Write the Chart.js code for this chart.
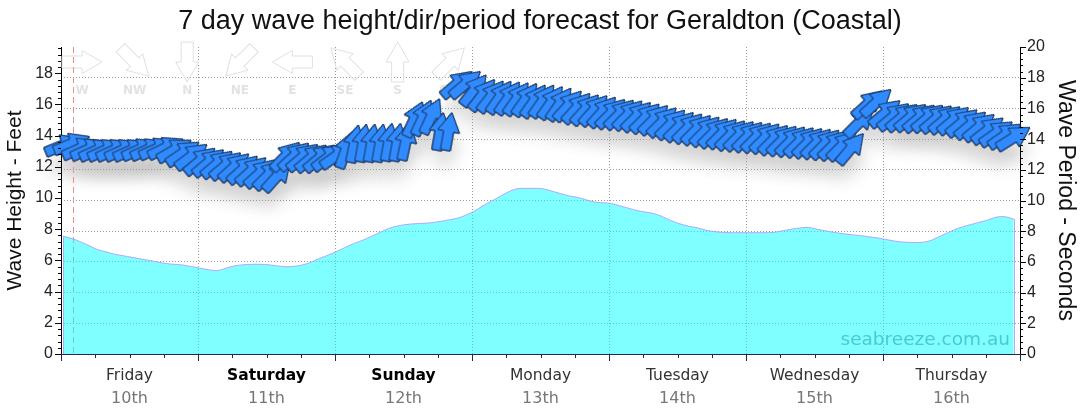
<!DOCTYPE html>
<html><head><meta charset="utf-8">
<script src="https://cdn.jsdelivr.net/npm/chart.js@4.4.0/dist/chart.umd.min.js"></script>
<style>html,body{margin:0;padding:0;background:#fff;overflow:hidden}</style>
</head><body>
<canvas id="c" width="1080" height="414"></canvas>
<script>
// ---- data ----
const chartTitle = '7 day wave height/dir/period forecast for Geraldton (Coastal)';
const dayNames = ['Friday','Saturday','Sunday','Monday','Tuesday','Wednesday','Thursday'];
const dayDates = ['10th','11th','12th','13th','14th','15th','16th'];
const weekendDays = ['Saturday','Sunday'];
// hours since Friday 00:00
const hours = [
  0.4,1.9,3.4,4.9,6.4,7.9,9.4,10.9,12.4,13.9,15.4,16.9,18.4,19.9,21.4,22.9,
  24.4,25.9,27.4,28.9,30.4,31.9,33.4,34.9,36.4,37.9,39.4,40.9,42.4,43.9,45.4,46.9,
  48.4,49.9,51.4,52.9,54.4,55.9,57.4,58.9,60.4,61.9,63.4,64.9,66.4,67.9,69.4,70.9,
  72.4,73.9,75.4,76.9,78.4,79.9,81.4,82.9,84.4,85.9,87.4,88.9,90.4,91.9,93.4,94.9,
  96.4,97.9,99.4,100.9,102.4,103.9,105.4,106.9,108.4,109.9,111.4,112.9,114.4,115.9,117.4,118.9,
  120.4,121.9,123.4,124.9,126.4,127.9,129.4,130.9,132.4,133.9,135.4,136.9,138.4,139.9,141.4,142.9,
  144.4,145.9,147.4,148.9,150.4,151.9,153.4,154.9,156.4,157.9,159.4,160.9,162.4,163.9,165.4,166.9
];
const waveHeightFt = [
  7.55,7.4,7.2,6.95,6.7,6.55,6.4,6.3,6.2,6.1,6.0,5.9,5.8,5.75,5.7,5.6,
  5.5,5.4,5.35,5.5,5.65,5.72,5.75,5.75,5.72,5.65,5.6,5.62,5.72,5.9,6.15,6.35,
  6.6,6.85,7.1,7.3,7.55,7.8,8.05,8.2,8.3,8.35,8.38,8.42,8.5,8.6,8.7,8.9,
  9.15,9.5,9.8,10.1,10.4,10.6,10.62,10.62,10.6,10.45,10.3,10.15,10.05,9.9,9.75,9.7,
  9.65,9.5,9.35,9.2,9.1,9.0,8.8,8.55,8.35,8.2,8.1,7.95,7.85,7.8,7.78,7.78,
  7.78,7.78,7.78,7.8,7.9,8.0,8.08,8.12,8.0,7.9,7.8,7.72,7.65,7.6,7.52,7.45,
  7.35,7.25,7.18,7.15,7.15,7.22,7.45,7.7,7.95,8.15,8.3,8.45,8.6,8.78,8.8,8.65
];
const wavePeriodS = [
  13.6,13.7,13.4,13.35,13.3,13.3,13.3,13.3,13.3,13.35,13.35,13.4,13.45,13.3,13.1,12.9,
  12.6,12.5,12.4,12.3,12.2,12.05,11.95,11.8,11.7,11.6,12.9,12.9,12.85,12.8,12.8,12.85,
  12.95,13.3,13.7,13.75,13.75,13.75,13.8,13.8,13.85,15.3,15.4,15.5,14.5,14.5,17.6,17.6,
  17.2,16.9,16.8,16.75,16.7,16.65,16.6,16.5,16.5,16.4,16.3,16.2,16.05,15.95,15.9,15.8,
  15.7,15.65,15.6,15.5,15.4,15.3,15.15,15.0,14.85,14.75,14.65,14.55,14.45,14.4,14.3,14.25,
  14.2,14.15,14.1,14.0,13.95,13.9,13.85,13.8,13.75,13.7,13.65,13.6,13.4,15.1,16.3,16.4,
  15.7,15.5,15.45,15.45,15.4,15.4,15.35,15.3,15.25,15.1,14.95,14.8,14.6,14.4,14.25,14.1
];
// direction waves come FROM, degrees
const waveDirDeg = [
  248,248,246,246,246,246,246,246,246,246,246,246,244,240,236,233,
  230,230,230,230,228,228,228,228,225,222,225,228,230,230,230,232,
  235,200,192,190,190,190,190,190,192,205,205,205,190,190,230,230,
  218,218,218,215,215,215,215,215,215,215,215,222,222,222,222,222,
  225,225,225,225,225,225,225,225,225,225,225,225,225,225,225,225,
  225,225,225,225,225,225,225,225,225,225,225,225,220,225,228,228,
  230,230,230,230,230,230,230,230,230,230,230,230,232,235,235,238
];
const compassLabels = ['W','NW','N','NE','E','SE','S','SW'];
const compassDirs = [270,315,0,45,90,135,180,225];
const nowHour = 2.1;
const heightMaxFt = 19.685;
const periodMax = 20;
const watermark = 'seabreeze.com.au';

// ---- drawing helpers ----
function arrowPath(g, len, hw, hl, sw) {
  g.beginPath();
  g.moveTo(-len/2, -sw/2);
  g.lineTo(len/2 - hl, -sw/2);
  g.lineTo(len/2 - hl, -hw/2);
  g.lineTo(len/2, 0);
  g.lineTo(len/2 - hl, hw/2);
  g.lineTo(len/2 - hl, sw/2);
  g.lineTo(-len/2, sw/2);
  g.closePath();
}
function makeArrow(len, hw, hl, sw, fill, stroke) {
  const c = document.createElement('canvas');
  c.width = c.height = Math.ceil(len + 4);
  const g = c.getContext('2d');
  g.translate(c.width/2, c.height/2);
  arrowPath(g, len, hw, hl, sw);
  g.fillStyle = fill; g.fill();
  g.lineWidth = 1; g.strokeStyle = stroke; g.stroke();
  return c;
}
const arrowImg = makeArrow(38, 22, 19, 10, '#2f8bff', '#18335c');
const rotOf = d => d - 270;

const ARROW_DS = 0, AREA_DS = 1;

const extras = {
  id: 'extras',
  beforeDatasetsDraw(chart) {
    const ctx = chart.ctx, ca = chart.chartArea, xs = chart.scales.x;
    ctx.save();
    for (let i = 0; i < compassLabels.length; i++) {
      const cx = ca.left + 21 + i * 52.6, cy = 62;
      ctx.save();
      ctx.translate(cx, cy);
      ctx.rotate(rotOf(compassDirs[i]) * Math.PI / 180);
      arrowPath(ctx, 40, 23, 20, 12);
      ctx.strokeStyle = '#e0e0e0'; ctx.lineWidth = 1; ctx.stroke();
      ctx.restore();
      ctx.fillStyle = '#e2e2e2';
      ctx.font = 'bold 12px "DejaVu Sans"';
      ctx.textAlign = 'center'; ctx.textBaseline = 'middle';
      ctx.fillText(compassLabels[i], cx, 91);
    }
    const nx = Math.round(xs.getPixelForValue(nowHour)) + 0.5;
    ctx.strokeStyle = '#f08c8c';
    ctx.setLineDash([6, 4]);
    ctx.beginPath(); ctx.moveTo(nx, ca.top); ctx.lineTo(nx, ca.bottom); ctx.stroke();
    ctx.restore();
  },
  afterDatasetDraw(chart, args) {
    const ctx = chart.ctx, ca = chart.chartArea;
    if (args.index === ARROW_DS) {
      ctx.save();
      ctx.globalCompositeOperation = 'destination-over';
      ctx.shadowColor = 'rgba(0,0,0,0.1)';
      ctx.shadowBlur = 16;
      ctx.shadowOffsetX = 2;
      ctx.shadowOffsetY = 17;
      args.meta.data.forEach(p => p.draw(ctx, ca));
      ctx.restore();
    }
    if (args.index === AREA_DS) {
      const pts = args.meta.data;
      ctx.save();
      ctx.strokeStyle = 'rgba(170,160,255,0.9)'; ctx.lineWidth = 1;
      [pts[0], pts[pts.length - 1]].forEach(p => {
        const x = Math.round(p.x) + 0.5;
        ctx.beginPath(); ctx.moveTo(x, p.y); ctx.lineTo(x, ca.bottom); ctx.stroke();
      });
      ctx.fillStyle = 'rgba(0,140,150,0.45)';
      ctx.font = '18.5px "DejaVu Sans"';
      ctx.textAlign = 'right'; ctx.textBaseline = 'alphabetic';
      ctx.fillText(watermark, ca.right - 10, ca.bottom - 9);
      ctx.restore();
    }
  },
  afterDraw(chart) {
    const ctx = chart.ctx, ca = chart.chartArea;
    const y = chart.scales.y, y2 = chart.scales.y2, x = chart.scales.x;
    ctx.save();
    ctx.lineWidth = 1; ctx.strokeStyle = '#000';
    ctx.beginPath();
    for (let k = 0; k * 0.4 <= y.max + 1e-6; k++) {
      const py = Math.round(y.getPixelForValue(k * 0.4)) + 0.5;
      const len = k % 5 === 0 ? 6 : 3;
      ctx.moveTo(ca.left - len, py); ctx.lineTo(ca.left, py);
    }
    for (let k = 0; k * 0.4 <= y2.max + 1e-6; k++) {
      const py = Math.round(y2.getPixelForValue(k * 0.4)) + 0.5;
      const len = k % 5 === 0 ? 6 : 3;
      ctx.moveTo(ca.right, py); ctx.lineTo(ca.right + len, py);
    }
    ctx.stroke();
    ctx.strokeStyle = '#1b2a4e';
    ctx.beginPath();
    for (let h = 0; h <= x.max; h += 6) {
      const px = Math.round(x.getPixelForValue(h)) + 0.5;
      const len = h % 24 === 0 ? 7 : 4;
      ctx.moveTo(px, ca.bottom); ctx.lineTo(px, ca.bottom + len);
    }
    ctx.stroke();
    ctx.restore();
  }
};

const dayTicks = s => { s.ticks = []; for (let h = 0; h <= 168; h += 12) s.ticks.push({ value: h }); };
const dayIndex = v => (v - 12) / 24;
const isWeekendTick = c => !!(c && c.tick && weekendDays.includes(dayNames[dayIndex(c.tick.value)]));

new Chart(document.getElementById('c'), {
  type: 'line',
  data: {
    datasets: [
      {
        label: 'Period / direction',
        data: hours.map((h, i) => ({ x: h, y: wavePeriodS[i] })),
        xAxisID: 'x', yAxisID: 'y2',
        showLine: false,
        pointStyle: arrowImg,
        pointRadius: 10,
        pointRotation: waveDirDeg.map(rotOf),
        clip: false,
        order: 0
      },
      {
        label: 'Wave height',
        data: hours.map((h, i) => ({ x: h, y: waveHeightFt[i] })),
        xAxisID: 'x', yAxisID: 'y',
        fill: 'origin',
        backgroundColor: 'rgba(0,255,255,0.5)',
        borderColor: 'rgba(170,160,255,0.9)',
        borderWidth: 1,
        pointRadius: 0,
        tension: 0.35,
        order: 1
      }
    ]
  },
  options: {
    responsive: false,
    devicePixelRatio: 1,
    animation: false,
    layout: { padding: 0 },
    plugins: {
      legend: { display: false },
      tooltip: { enabled: false },
      title: {
        display: true, text: chartTitle, color: '#111',
        font: { family: 'Liberation Sans', size: 27, weight: 'normal' },
        padding: { top: 5, bottom: 9.6 }
      }
    },
    scales: {
      x: {
        type: 'linear', position: 'bottom', min: 0, max: 168, weight: 0,
        afterBuildTicks: dayTicks,
        afterFit: s => { s.height = 32; },
        grid: {
          display: true, drawOnChartArea: true, drawTicks: false,
          color: c => (c && c.tick && c.tick.value % 24 === 0 && c.tick.value > 0 && c.tick.value < 168) ? '#9a9a9a' : 'rgba(0,0,0,0)'
        },
        border: { display: true, color: '#1b2a4e', width: 1, dash: [1, 2] },
        ticks: {
          autoSkip: false, maxRotation: 0, padding: 13,
          color: c => isWeekendTick(c) ? '#000' : '#333',
          font: c => ({ family: 'DejaVu Sans', size: 15.5, weight: isWeekendTick(c) ? 'bold' : 'normal' }),
          callback: v => (v % 24 === 12 ? dayNames[dayIndex(v)] : '')
        }
      },
      x2: {
        type: 'linear', position: 'bottom', min: 0, max: 168, weight: 1,
        afterBuildTicks: dayTicks,
        afterFit: s => { s.height = 28; },
        grid: { display: false, drawTicks: false },
        border: { display: false },
        ticks: {
          autoSkip: false, maxRotation: 0, padding: 3, color: '#777',
          font: { family: 'DejaVu Sans', size: 16 },
          callback: v => (v % 24 === 12 ? dayDates[dayIndex(v)] : '')
        }
      },
      y: {
        type: 'linear', position: 'left', min: 0, max: heightMaxFt,
        afterFit: s => { s.width = 61; },
        grid: { display: false, drawTicks: false },
        border: { display: true, color: '#000', width: 1 },
        ticks: { stepSize: 2, includeBounds: false, padding: 8, color: '#222', font: { family: 'Liberation Sans', size: 16 } },
        title: { display: true, text: 'Wave Height - Feet', color: '#111', font: { family: 'Liberation Sans', size: 21 }, padding: { top: 3, bottom: 0 } }
      },
      y2: {
        type: 'linear', position: 'right', min: 0, max: periodMax,
        afterFit: s => { s.width = 60; },
        grid: {
          display: true, drawOnChartArea: true, drawTicks: false,
          color: c => (c && c.tick && c.tick.value > 0 && c.tick.value < periodMax) ? '#9a9a9a' : 'rgba(0,0,0,0)'
        },
        border: { display: true, color: '#000', width: 1, dash: [1, 2] },
        ticks: { stepSize: 2, padding: 7, color: '#222', font: { family: 'Liberation Sans', size: 16 } },
        title: { display: true, text: 'Wave Period - Seconds', color: '#111', font: { family: 'Liberation Sans', size: 23 }, padding: { top: 1, bottom: 0 } }
      }
    }
  },
  plugins: [extras]
});
</script>
</body></html>
